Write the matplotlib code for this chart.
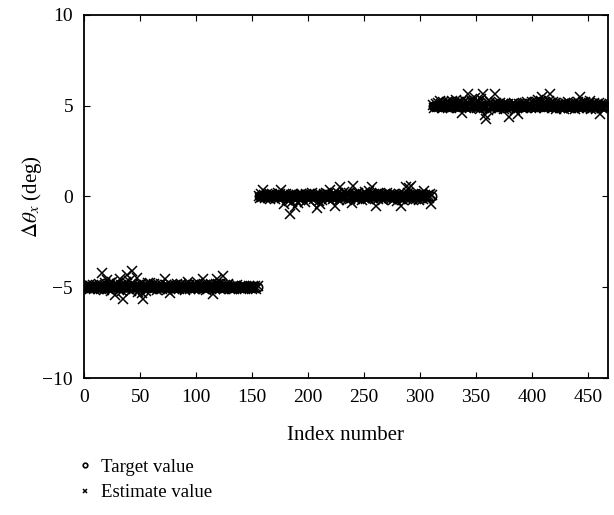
import numpy as np
import matplotlib
matplotlib.use("Agg")
import matplotlib.pyplot as plt

plt.rcParams["font.family"] = ["Liberation Serif", "DejaVu Serif"]
plt.rcParams["mathtext.fontset"] = "stix"

# target angle for each block of 156 samples (deg)
targets = [-5.0, 0.0, 5.0]
block_size = 156

# estimate error per sample, in hundredths of a degree
err_a = [
    3, -6, 8, -4, 10, -9, 5, -2, 12, -7, 4, 15, -10,
    18, 6, -12, 77, 9, -14, 22, 40, -8, 16, 25, -18, 30,
    -5, 12, -44, 20, 8, -15, 44, 10, -20, -66, 14, 28, 66,
    -10, 35, 5, -22, 90, 18, -12, 8, 50, -25, 12, -8, 20,
    -30, -66, 15, -18, 10, 22, -6, 22, 8, -12, 16, -4, 10,
    -14, 6, 12, -8, 20, -10, 4, 44, 15, -16, 8, -6, -33,
    10, 5, -12, 14, -8, 18, 6, -10, 12, 20, -4, 8, -14,
    15, -6, 30, 10, -12, 6, 14, -8, 18, -5, 10, 22, -10,
    6, 12, 44, -8, 15, -14, 10, 4, -6, 18, 8, -35, 12,
    -10, 20, 44, 16, -8, 24, 10, 62, -12, 14, -6, 8, 20,
    -8, 4, -10, 6, -12, 8, -4, 10, -6, 2, -9, 5, -3,
    7, -8, 4, -5, 9, -6, 3, -10, 6, -4, 8, -7, 5,
]
err_b = [
    5, -8, 12, -4, 33, 10, -6, 14, -10, 8, -12, 6, 15,
    -5, 10, -14, 8, 18, -8, 12, 33, -10, 6, -40, 14, -20,
    10, -25, -95, 8, -30, 12, -59, -18, 6, -35, 10, -22, 14,
    -12, 8, -28, 15, -6, 10, -20, 12, -8, 18, -14, 6, 10,
    -66, 12, -25, -40, 8, -18, 14, -10, 20, -6, 12, -15, 33,
    8, -12, 14, -50, 10, -8, 18, -20, 51, 12, -10, 25, -6,
    14, -18, 10, 20, -12, -35, 57, 8, -15, 12, -10, 18, -6,
    10, -20, 14, -8, 22, -12, 8, -16, 30, 12, 50, -10, 15,
    8, -55, 12, -14, 20, -8, 10, -18, 6, 14, -10, 18, -6,
    12, -15, 8, -20, 16, -8, 10, -25, 14, -12, -55, 8, -18,
    12, -10, 50, 18, 45, -14, 57, 10, -20, 8, 15, -12, 6,
    -18, 10, -8, 14, -12, 30, 6, -15, 10, -8, 12, -40, 8,
]
err_c = [
    6, -10, 12, -5, 15, -8, 28, 10, -12, 18, -6, 14, 20,
    -10, 22, 8, -14, 25, 12, -8, 30, 15, -12, 20, -6, 18,
    -38, 14, 25, -10, 20, 64, 12, -15, 30, 18, -8, 40, 22,
    -12, 28, 15, -20, 35, 64, -10, -50, -73, 18, -25, 12, 20,
    -15, 10, -8, 64, 14, -20, 8, -12, 16, -6, 10, -18, 8,
    -10, 6, 12, -64, -14, 10, -8, 14, -25, 6, -12, -45, 10,
    -8, 12, -15, 8, 14, -10, 18, -6, 10, -12, 20, -8, 14,
    22, -10, 18, 30, -6, 25, 46, 12, -15, 20, 10, -8, 28,
    64, 15, -12, 20, -8, 14, -18, 10, 6, -14, 12, -10, 8,
    -20, 14, -8, 18, -12, 10, -15, 12, -6, 16, -18, 8, 20,
    -10, 46, 12, -15, 18, -8, 20, -12, 10, 14, 28, -18, 8,
    -12, 16, -20, 10, -8, 14, -45, 12, -15, 8, -10, 6, -4,
]

x_ticks = [0, 50, 100, 150, 200, 250, 300, 350, 400, 450]
y_ticks = [-10, -5, 0, 5, 10]
y_tick_labels = ["\u221210", "\u22125", "0", "5", "10"]

target = np.repeat(targets, block_size)
estimate = target + np.array(err_a + err_b + err_c) / 100.0
index = np.arange(len(target))

fig = plt.figure(figsize=(6.14, 5.15), dpi=100)
ax = fig.add_axes([0.137, 0.266, 0.853, 0.705])

ax.plot(index, target, "o", ms=6, mfc="white", mec="black", mew=1.2,
        label="Target value")
ax.plot(index, estimate, "x", ms=6.5, color="black", mew=1.1,
        label="Estimate value")

ax.set_xlim(0, 468)
ax.set_ylim(-10, 10)
ax.set_xticks(x_ticks)
ax.set_yticks(y_ticks)
ax.set_yticklabels(y_tick_labels)
ax.tick_params(direction="in", top=True, right=True, labelsize=14,
               length=4, width=0.8)
ax.tick_params(axis="x", pad=8)
ax.tick_params(axis="y", pad=8)
for s in ax.spines.values():
    s.set_linewidth(1.3)

ax.set_xlabel("Index number", fontsize=15, labelpad=14)
ax.set_ylabel(r"$\Delta\theta_x$ (deg)", fontsize=15)
ax.yaxis.set_label_coords(-0.076, 0.5)

fig.legend(loc="upper left", bbox_to_anchor=(0.097, 0.142), frameon=False,
           fontsize=13.5, markerscale=0.55, handlelength=0.9,
           handletextpad=0.4, labelspacing=0.45)

fig.savefig("out.png", dpi=100)
